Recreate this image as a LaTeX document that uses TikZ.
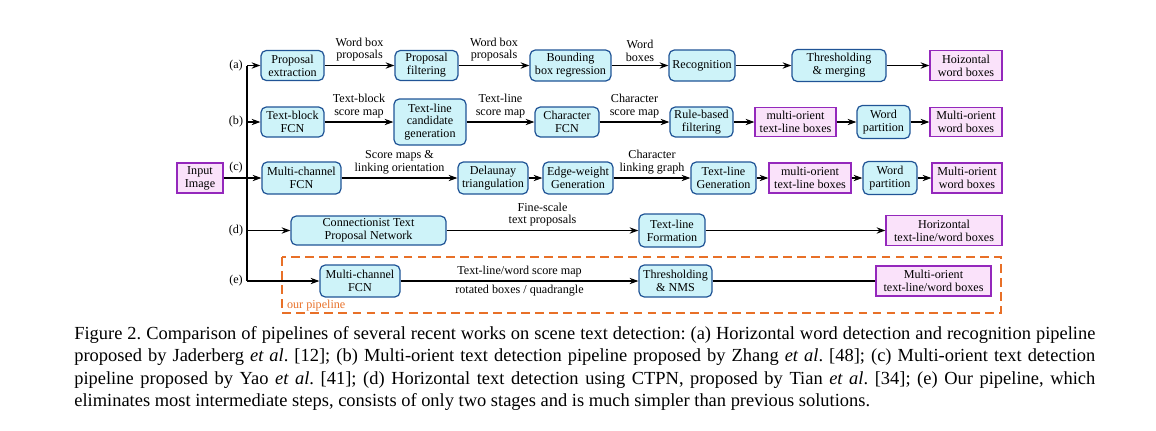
\documentclass[tikz,border=0pt]{standalone}
\usepackage{fontspec}
\setmainfont{Liberation Serif}
\usetikzlibrary{arrows.meta}
\newlength\pxu
\setlength\pxu{0.02cm}
\definecolor{pipefill}{RGB}{206,243,249}
\definecolor{pipedraw}{RGB}{32,84,150}
\definecolor{resfill}{RGB}{250,226,250}
\definecolor{resdraw}{RGB}{148,40,188}
\definecolor{ourpipe}{RGB}{232,112,40}
\newcommand\diagfont{\fontsize{6.9}{7.3}\selectfont}
\newcommand\capfont{\fontsize{10.5}{12.8}\selectfont\frenchspacing}

\begin{document}
\begin{tikzpicture}[x=0.02cm, y=-0.02cm,
  sz/.style 2 args={minimum width=#1\pxu, minimum height=#2\pxu},
  stage/.style={draw=pipedraw, fill=pipefill, rounded corners=3pt, line width=0.7pt,
                align=center, inner sep=1pt, font=\diagfont},
  result/.style={draw=resdraw, fill=resfill, line width=0.7pt,
                 align=center, inner sep=1pt, font=\diagfont},
  lbl/.style={font=\diagfont, align=center, inner sep=2pt},
  tag/.style={font=\diagfont},
  arr/.style={-{Stealth[length=5pt,width=3.6pt]}, line width=0.6pt}]
\useasboundingbox (0,0) rectangle (1156,430);
% pipeline (a)
\node[stage, sz={63}{30}]  (pa1) at (292.5,65.5) {Proposal\\extraction};
\node[stage, sz={63}{30}]  (pa2) at (426.5,65.5) {Proposal\\filtering};
\node[stage, sz={81}{31}]  (pa3) at (570.5,65.5) {Bounding\\box regression};
\node[stage, sz={66}{31}]  (pa4) at (702,65.5)   {Recognition};
\node[stage, sz={94}{32}]  (pa5) at (839,65.5)   {Thresholding\\\& merging};
\node[result, sz={72}{30}] (pa6) at (966,65.5)   {Hoizontal\\word boxes};
% pipeline (b)
\node[stage, sz={63}{30}]  (pb1) at (292.5,122) {Text-block\\FCN};
\node[stage, sz={72}{46}]  (pb2) at (430,122)   {Text-line\\candidate\\generation};
\node[stage, sz={64}{30}]  (pb3) at (567,122)   {Character\\FCN};
\node[stage, sz={63}{30}]  (pb4) at (701.5,122) {Rule-based\\filtering};
\node[result, sz={81}{29}] (pb5) at (795.5,122) {multi-orient\\text-line boxes};
\node[stage, sz={53}{33}]  (pb6) at (883.5,122) {Word\\partition};
\node[result, sz={72}{29}] (pb7) at (966,122)   {Multi-orient\\word boxes};
% pipeline (c)
\node[result, sz={46}{30}] (img) at (200,178)   {Input\\Image};
\node[stage, sz={79}{32}]  (pc1) at (301.5,178) {Multi-channel\\FCN};
\node[stage, sz={70}{32}]  (pc2) at (493,178)   {Delaunay\\triangulation};
\node[stage, sz={70}{32}]  (pc3) at (578,178)   {Edge-weight\\Generation};
\node[stage, sz={65}{32}]  (pc4) at (723.5,178) {Text-line\\Generation};
\node[result, sz={82}{30}] (pc5) at (810,178)   {multi-orient\\text-line boxes};
\node[stage, sz={54}{33}]  (pc6) at (890,178)   {Word\\partition};
\node[result, sz={70}{30}] (pc7) at (967,178)   {Multi-orient\\word boxes};
% pipeline (d)
\node[stage, sz={155}{29}]  (pd1) at (368.5,230.5) {Connectionist Text\\Proposal Network};
\node[stage, sz={66}{33}]   (pd2) at (672,230.5)   {Text-line\\Formation};
\node[result, sz={116}{30}] (pd3) at (944,230.5)   {Horizontal\\text-line/word boxes};
% pipeline (e), ours
\node[stage, sz={80}{32}]   (pe1) at (360,281)   {Multi-channel\\FCN};
\node[stage, sz={73}{32}]   (pe2) at (675.5,281) {Thresholding\\\& NMS};
\node[result, sz={115}{30}] (pe3) at (933.5,281) {Multi-orient\\text-line/word boxes};
\draw[ourpipe, line width=0.7pt, dash pattern=on 5pt off 3pt] (282,257) rectangle (1001,313);
\node[font=\diagfont, text=ourpipe, anchor=west, inner sep=1pt] (ourlbl) at (285,305.5) {our pipeline};
% row tags and branching line
\node[tag] (ta) at (236,65.5)  {(a)};
\node[tag] (tb) at (236,122)   {(b)};
\node[tag] (tc) at (236,168)   {(c)};
\node[tag] (td) at (236,230.5) {(d)};
\node[tag] (te) at (236,281)   {(e)};
\coordinate (ja) at (247,65.5);
\coordinate (jb) at (247,122);
\coordinate (jd) at (247,230.5);
\coordinate (je) at (247,281);
\draw[line width=0.6pt] (ja) -- (je);
\draw[arr] (ja) -- (pa1);
\draw[arr] (jb) -- (pb1);
\draw[arr] (img) -- (pc1);
\draw[arr] (jd) -- (pd1);
\draw[arr] (je) -- (pe1);
% connectors (a)
\draw[arr] (pa1) -- node[lbl, above] {Word box\\proposals} (pa2);
\draw[arr] (pa2) -- node[lbl, above] {Word box\\proposals} (pa3);
\draw[arr] (pa3) -- node[lbl, above] {Word\\boxes} (pa4);
\draw[arr] (pa4) -- (pa5);
\draw[arr] (pa5) -- (pa6);
% connectors (b)
\draw[arr] (pb1) -- node[lbl, above] {Text-block\\score map} (pb2);
\draw[arr] (pb2) -- node[lbl, above] {Text-line\\score map} (pb3);
\draw[arr] (pb3) -- node[lbl, above] {Character\\score map} (pb4);
\draw[arr] (pb4) -- (pb5);
\draw[arr] (pb5) -- (pb6);
\draw[arr] (pb6) -- (pb7);
% connectors (c)
\draw[arr] (pc1) -- node[lbl, above] {Score maps \&\\linking orientation} (pc2);
\draw[arr] (pc2) -- (pc3);
\draw[arr] (pc3) -- node[lbl, above] {Character\\linking graph} (pc4);
\draw[arr] (pc4) -- (pc5);
\draw[arr] (pc5) -- (pc6);
\draw[arr] (pc6) -- (pc7);
% connectors (d)
\draw[arr] (pd1) -- node[lbl, above] {Fine-scale\\text proposals} (pd2);
\draw[arr] (pd2) -- (pd3);
% connectors (e)
\draw[arr] (pe1) -- node[lbl, above] {Text-line/word score map}
                    node[lbl, below] {rotated boxes / quadrangle} (pe2);
\draw[line width=0.6pt] (pe2) -- (pe3);
% caption
\node[anchor=north west, text width=1021\pxu, align=justify, inner sep=0pt, font=\capfont] (cap) at (74,326)
  {Figure 2. Comparison of pipelines of several recent works on scene text detection: (a) Horizontal word detection and recognition pipeline\linebreak
   proposed by Jaderberg \textit{et al}. [12]; (b) Multi-orient text detection pipeline proposed by Zhang \textit{et al}. [48]; (c) Multi-orient text detection\linebreak
   pipeline proposed by Yao \textit{et al}. [41]; (d) Horizontal text detection using CTPN, proposed by Tian \textit{et al}. [34]; (e) Our pipeline, which\linebreak
   eliminates most intermediate steps, consists of only two stages and is much simpler than previous solutions.};
\end{tikzpicture}
\end{document}
